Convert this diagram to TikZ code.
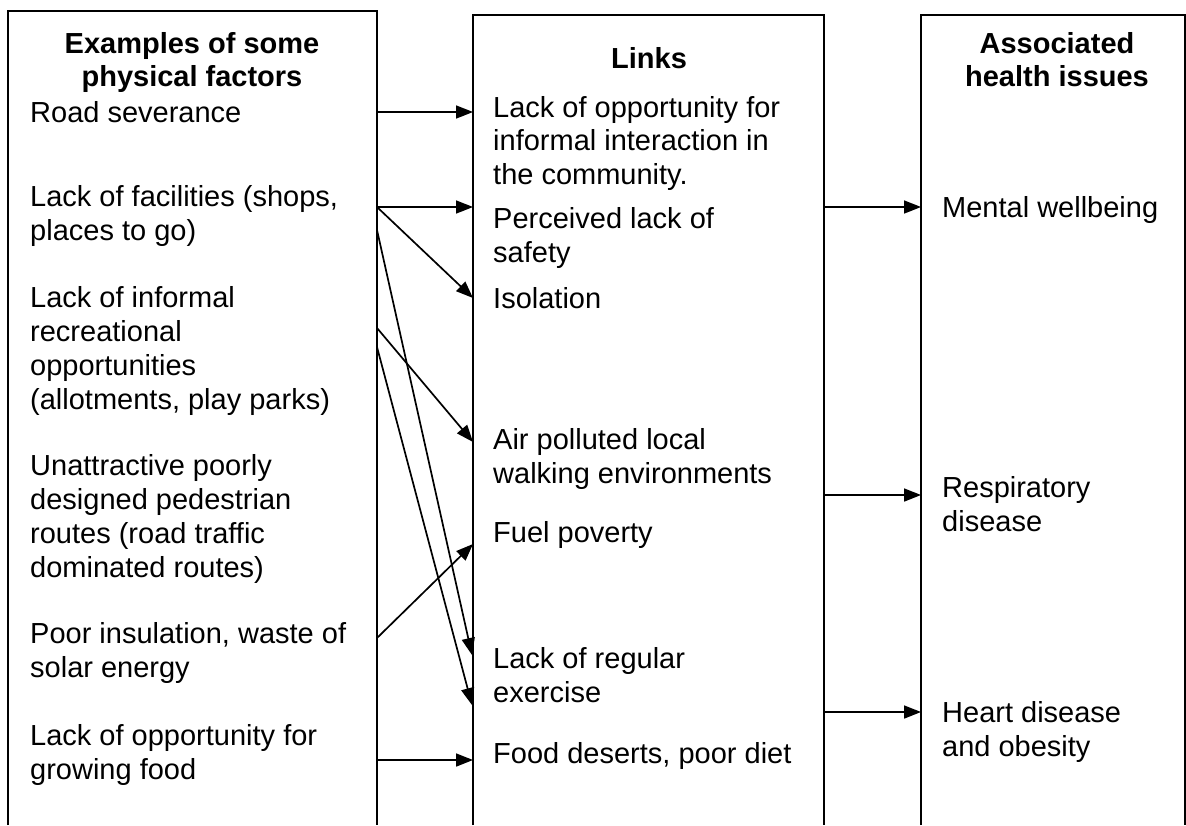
\documentclass[tikz,border=0pt]{standalone}
\usepackage{fontspec}
\setmainfont{Liberation Sans}
\usetikzlibrary{arrows.meta}
\begin{document}
\begin{tikzpicture}[x=1pt,y=-1pt,
  boxline/.style={line width=1.9pt,line join=miter},
  link/.style={line width=1.7pt,-{Triangle[length=17pt,width=13pt]}},
  bodytext/.style={anchor=base west,inner sep=0pt,font=\fontsize{29}{34}\selectfont},
  headtext/.style={anchor=base,inner sep=0pt,font=\fontsize{29}{34}\selectfont\bfseries}]
\useasboundingbox[fill=white] (0,0) rectangle (1186,825);

% column frames (open at the bottom)
\draw[boxline] (8,825) -- (8,11) -- (377,11) -- (377,825);
\draw[boxline] (473,825) -- (473,15) -- (824,15) -- (824,825);
\draw[boxline] (921,825) -- (921,15) -- (1185,15) -- (1185,825);

% headings
\node[headtext] (lh1) at (192,53) {Examples of some};
\node[headtext] (lh2) at (192,86) {physical factors};
\node[headtext] (mh1) at (649,68) {Links};
\node[headtext] (rh1) at (1057,53) {Associated};
\node[headtext] (rh2) at (1057,86) {health issues};

% left column
\node[bodytext] (l1)  at (30,122) {Road severance};
\node[bodytext] (l2)  at (30,206) {Lack of facilities (shops,};
\node[bodytext] (l3)  at (30,240) {places to go)};
\node[bodytext] (l4)  at (30,307) {Lack of informal};
\node[bodytext] (l5)  at (30,341) {recreational};
\node[bodytext] (l6)  at (30,375) {opportunities};
\node[bodytext] (l7)  at (30,409) {(allotments, play parks)};
\node[bodytext] (l8)  at (30,475) {Unattractive poorly};
\node[bodytext] (l9)  at (30,509) {designed pedestrian};
\node[bodytext] (l10) at (30,543) {routes (road traffic};
\node[bodytext] (l11) at (30,577) {dominated routes)};
\node[bodytext] (l12) at (30,643) {Poor insulation, waste of};
\node[bodytext] (l13) at (30,677) {solar energy};
\node[bodytext] (l14) at (30,745) {Lack of opportunity for};
\node[bodytext] (l15) at (30,779) {growing food};

% middle column
\node[bodytext] (m1)  at (493,117) {Lack of opportunity for};
\node[bodytext] (m2)  at (493,150) {informal interaction in};
\node[bodytext] (m3)  at (493,184) {the community.};
\node[bodytext] (m4)  at (493,228) {Perceived lack of};
\node[bodytext] (m5)  at (493,262) {safety};
\node[bodytext] (m6)  at (493,308) {Isolation};
\node[bodytext] (m7)  at (493,449) {Air polluted local};
\node[bodytext] (m8)  at (493,483) {walking environments};
\node[bodytext] (m9)  at (493,542) {Fuel poverty};
\node[bodytext] (m10) at (493,668) {Lack of regular};
\node[bodytext] (m11) at (493,702) {exercise};
\node[bodytext] (m12) at (493,763) {Food deserts, poor diet};

% right column
\node[bodytext] (r1) at (942,217) {Mental wellbeing};
\node[bodytext] (r2) at (942,497) {Respiratory};
\node[bodytext] (r3) at (942,531) {disease};
\node[bodytext] (r4) at (942,722) {Heart disease};
\node[bodytext] (r5) at (942,756) {and obesity};

% connector end points on the frame edges
\coordinate (sRoad) at (377,112);
\coordinate (sFac)  at (377,207);
\coordinate (sFac2) at (377,230);
\coordinate (sRec)  at (377,328);
\coordinate (sRec2) at (377,347);
\coordinate (sIns)  at (377,638);
\coordinate (sFood) at (377,760);
\coordinate (tOpp)  at (473,112);
\coordinate (tSafe) at (473,207);
\coordinate (tIso)  at (473,298);
\coordinate (tAir)  at (473,442);
\coordinate (tFuel) at (473,544);
\coordinate (tEx1)  at (472,655);
\coordinate (tEx2)  at (472,705);
\coordinate (tFood) at (473,760);
\coordinate (sMent) at (824,207);
\coordinate (sResp) at (824,495);
\coordinate (sHeart) at (824,712);
\coordinate (tMent) at (921,207);
\coordinate (tResp) at (921,495);
\coordinate (tHeart) at (921,712);

\draw[link] (sRoad) -- (tOpp);
\draw[link] (sFac) -- (tSafe);
\draw[link] (sFac) -- (tIso);
\draw[link] (sFac2) -- (tEx1);
\draw[link] (sRec) -- (tAir);
\draw[link] (sRec2) -- (tEx2);
\draw[link] (sIns) -- (tFuel);
\draw[link] (sFood) -- (tFood);
\draw[link] (sMent) -- (tMent);
\draw[link] (sResp) -- (tResp);
\draw[link] (sHeart) -- (tHeart);
\end{tikzpicture}
\end{document}
